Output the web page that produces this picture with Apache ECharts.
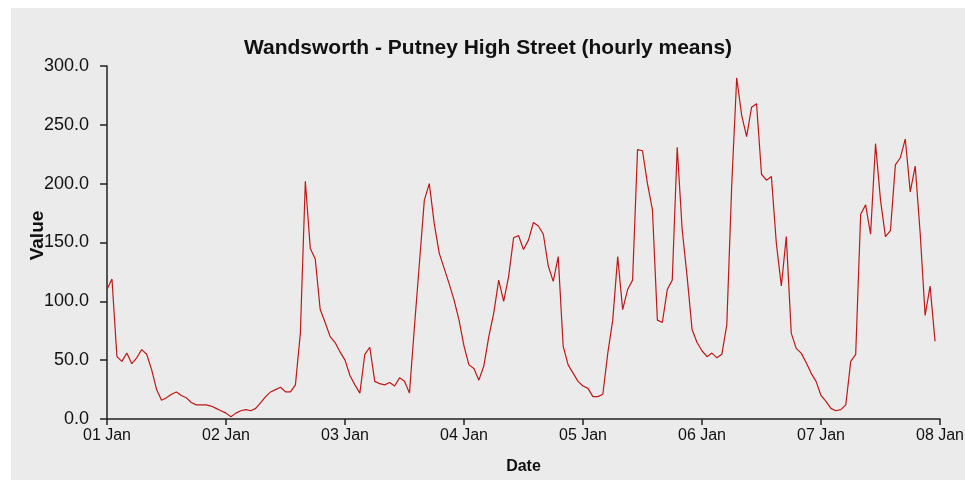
<!DOCTYPE html>
<html>
<head>
<meta charset="utf-8">
<script src="https://cdn.jsdelivr.net/npm/echarts@6/dist/echarts.min.js"></script>
<style>
  html, body { margin: 0; padding: 0; background: #ffffff; }
  #chart { position: absolute; left: 11px; top: 8px; width: 954px; height: 472px; background: #ebebeb; }
</style>
</head>
<body>
<div id="chart"></div>
<script>
// Hourly means, one array per day (00:00 .. 23:00)
const day01 = [110, 119, 53, 49, 56, 47, 52, 59, 55, 42, 25, 16, 18, 21, 23, 20, 18, 14, 12, 12, 12, 11, 9, 7];
const day02 = [5, 2, 5, 7, 8, 7, 9, 14, 19, 23, 25, 27, 23, 23, 29, 73, 202, 145, 136, 93, 82, 70, 65, 57];
const day03 = [50, 37, 29, 22, 55, 61, 32, 30, 29, 31, 28, 35, 32, 22, 78, 132, 186, 200, 166, 141, 128, 115, 101, 84];
const day04 = [62, 46, 43, 33, 45, 70, 90, 118, 100, 121, 154, 156, 144, 152, 167, 164, 157, 130, 117, 138, 62, 46, 39, 32];
const day05 = [28, 26, 19, 19, 21, 56, 84, 138, 93, 110, 118, 229, 228, 200, 178, 84, 82, 110, 118, 231, 161, 121, 76, 65];
const day06 = [58, 53, 56, 52, 55, 80, 199, 290, 258, 240, 265, 268, 208, 203, 206, 149, 113, 155, 73, 60, 56, 48, 39, 32];
const day07 = [20, 15, 9, 7, 8, 12, 49, 55, 174, 182, 157, 234, 186, 155, 160, 216, 222, 238, 193, 215, 158, 88, 113, 66];

const dayLabels = ['01 Jan', '02 Jan', '03 Jan', '04 Jan', '05 Jan', '06 Jan', '07 Jan', '08 Jan'];
const titleText = 'Wandsworth - Putney High Street (hourly means)';
const xName = 'Date';
const yName = 'Value';

const days = [day01, day02, day03, day04, day05, day06, day07];
const seriesData = [];
days.forEach((d, di) => d.forEach((v, hi) => seriesData.push([di * 24 + hi, v])));

const chart = echarts.init(document.getElementById('chart'), null, { renderer: 'canvas' });
const axisCol = '#222222';
const font = 'Liberation Sans, Arial, sans-serif';
chart.setOption({
  backgroundColor: 'transparent',
  animation: false,
  title: {
    text: titleText,
    left: 'center',
    top: 25,
    textStyle: { fontFamily: font, fontSize: 21, fontWeight: 'bold', color: '#111' }
  },
  grid: { left: 96, right: 25, top: 58, bottom: 61, containLabel: false, outerBoundsMode: 'none' },
  xAxis: {
    type: 'value',
    min: 0,
    max: 168,
    interval: 24,
    name: xName,
    nameLocation: 'middle',
    nameGap: 40,
    nameMoveOverlap: false,
    nameTextStyle: { fontFamily: font, fontSize: 16, fontWeight: 'bold', color: '#111' },
    axisLine: { show: true, lineStyle: { color: axisCol, width: 1.5 } },
    axisTick: { show: true, length: 6, lineStyle: { color: axisCol, width: 1.5 } },
    axisLabel: {
      fontFamily: font, fontSize: 16, color: '#111', margin: 9,
      formatter: v => dayLabels[Math.round(v / 24)] || ''
    },
    splitLine: { show: false }
  },
  yAxis: {
    type: 'value',
    min: 0,
    max: 300,
    interval: 50,
    name: yName,
    nameLocation: 'middle',
    nameRotate: 90,
    nameGap: 60,
    nameMoveOverlap: false,
    nameTextStyle: { fontFamily: font, fontSize: 19, fontWeight: 'bold', color: '#111', padding: [0, 0, 0, 14] },
    axisLine: { show: true, lineStyle: { color: axisCol, width: 1.5 } },
    axisTick: { show: true, length: 7, lineStyle: { color: axisCol, width: 1.5 } },
    axisLabel: {
      fontFamily: font, fontSize: 18, color: '#111', margin: 18,
      formatter: v => v.toFixed(1)
    },
    splitLine: { show: false }
  },
  series: [{
    type: 'line',
    data: seriesData,
    symbol: 'none',
    smooth: false,
    lineStyle: { color: '#c01818', width: 1.2 }
  }]
});
</script>
</body>
</html>
